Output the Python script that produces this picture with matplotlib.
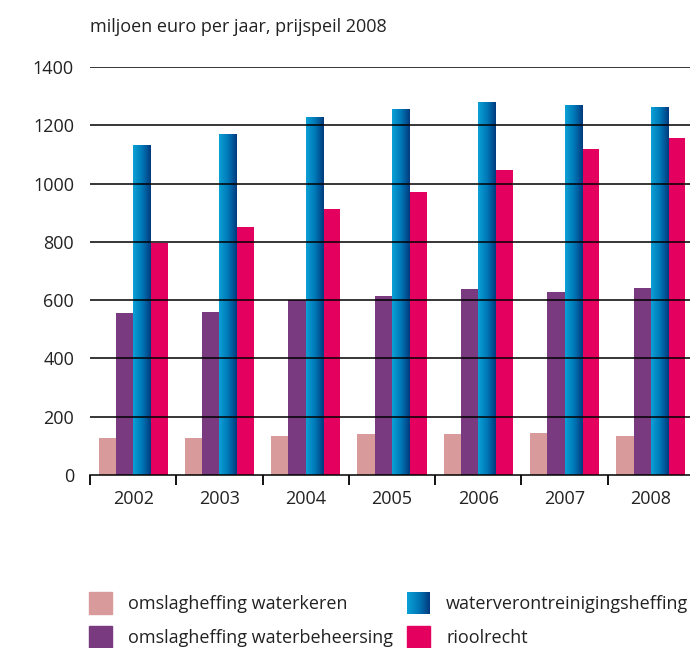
import numpy as np
import matplotlib
matplotlib.use('Agg')
import matplotlib.pyplot as plt
from matplotlib.colors import LinearSegmentedColormap
from matplotlib.patches import Rectangle

plt.rcParams['font.family'] = ['Open Sans', 'DejaVu Sans']

years = ['2002', '2003', '2004', '2005', '2006', '2007', '2008']
waterkeren = [128, 128, 135, 142, 142, 144, 134]
waterbeheersing = [555, 558, 600, 614, 637, 629, 642]
verontreiniging = [1132, 1169, 1226, 1255, 1277, 1267, 1262]
rioolrecht = [797, 850, 913, 971, 1046, 1118, 1157]

labels = ['omslagheffing waterkeren', 'omslagheffing waterbeheersing',
          'waterverontreinigingsheffing', 'rioolrecht']
pink = '#d99a9b'
purple = '#7a3a80'
red = '#e3005e'
blue_cmap = LinearSegmentedColormap.from_list('blue', ['#0aa0d6', '#0079b8', '#003b7e'])
grad = np.linspace(0, 1, 64).reshape(1, -1)
fs = 13

W, H = 690, 648
fig = plt.figure(figsize=(W / 100, H / 100), dpi=100)
ax = fig.add_axes([90 / W, 173 / H, 604 / W, 408 / H])

x = np.arange(len(years))
bw = 0.2
ax.bar(x - 1.5 * bw, waterkeren, bw, color=pink, zorder=1)
ax.bar(x - 0.5 * bw, waterbeheersing, bw, color=purple, zorder=1)
blue_bars = ax.bar(x + 0.5 * bw, verontreiniging, bw, color='none', zorder=1)
ax.bar(x + 1.5 * bw, rioolrecht, bw, color=red, zorder=1)

# gradient fill for the blue bars
for b in blue_bars:
    x0, h = b.get_x(), b.get_height()
    ax.imshow(grad, extent=[x0, x0 + bw, 0, h], aspect='auto', cmap=blue_cmap, zorder=1.5)

ax.set_xlim(-0.5, len(years) - 0.5)
ax.set_ylim(0, 1400)

for v in range(200, 1401, 200):
    ax.axhline(v, color='black', lw=1.1, zorder=3)

for s in ['top', 'right', 'left']:
    ax.spines[s].set_visible(False)
ax.spines['bottom'].set_linewidth(1.1)
ax.spines['bottom'].set_zorder(3)

ax.set_yticks(range(0, 1401, 200))
ax.tick_params(axis='y', length=0, pad=11.5, labelsize=fs, labelcolor='#222222')
ax.set_xticks(np.arange(-0.5, len(years) - 0.4, 1))
ax.set_xticklabels([])
ax.set_xticks(x, minor=True)
ax.set_xticklabels(years, minor=True)
ax.tick_params(axis='x', which='major', length=7.2, width=1.3, direction='out')
ax.tick_params(axis='x', which='minor', length=0, pad=10.5, labelsize=fs, labelcolor='#222222')

fig.text(90 / W, 1 - 27 / H, 'miljoen euro per jaar, prijspeil 2008', fontsize=fs,
         va='center', color='#222222')

# legend drawn by hand
lax = fig.add_axes([0, 0, 1, 1])
entries = [(89, 592, pink, labels[0]), (89, 626, purple, labels[1]),
           (407, 592, None, labels[2]), (407, 626, red, labels[3])]
for ex, ey, col, lab in entries:
    if col is None:
        lax.imshow(grad, extent=[ex, ex + 23, ey + 22, ey], aspect='auto', cmap=blue_cmap)
    else:
        lax.add_patch(Rectangle((ex, ey), 23, 22, color=col))
    lax.text(ex + 39, ey + 12, lab, fontsize=fs, va='center', color='#222222')
lax.set_xlim(0, W)
lax.set_ylim(H, 0)
lax.axis('off')

fig.savefig('out.png', dpi=100)
